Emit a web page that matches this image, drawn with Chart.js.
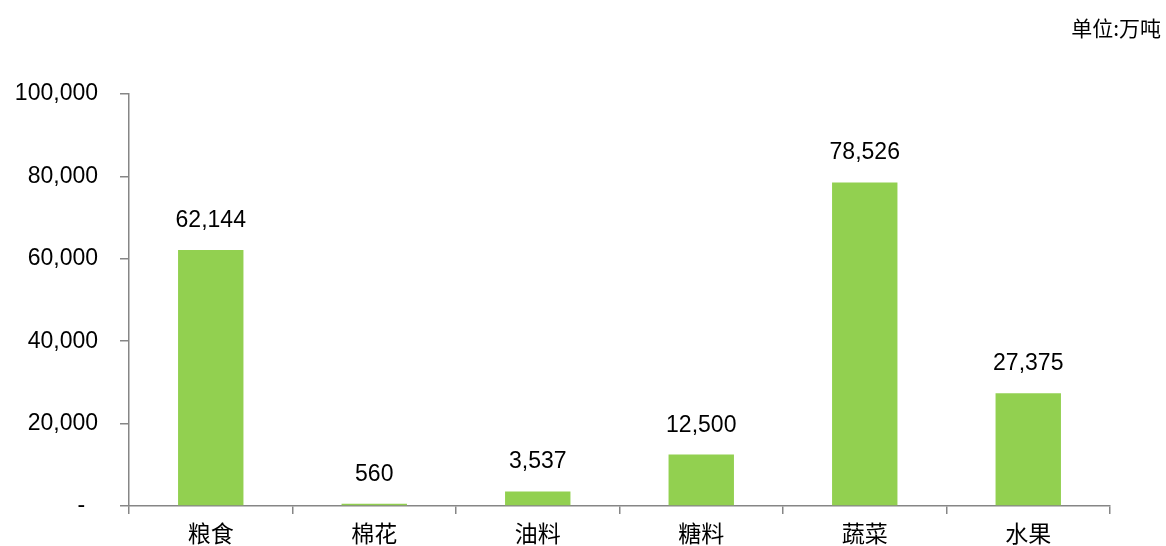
<!DOCTYPE html>
<html>
<head>
<meta charset="utf-8">
<script src="https://cdn.jsdelivr.net/npm/chart.js@4/dist/chart.umd.min.js"></script>
<style>
  html, body { margin: 0; padding: 0; background: #fff; }
  #wrap { width: 1166px; height: 546px; position: relative; }
</style>
</head>
<body>
<div id="wrap"><canvas id="c" width="1166" height="546"></canvas></div>
<script>
// ~~ data ~~
var categories = ["粮食", "棉花", "油料", "糖料", "蔬菜", "水果"];
var output = [62144, 560, 3537, 12500, 78526, 27375];
var yTicks = [0, 20000, 40000, 60000, 80000, 100000];
var unitLabel = "单位:万吨";

var FONT = "'Liberation Sans', 'Noto Sans CJK SC', Arial, sans-serif";
var AXIS = "#868686";

function fmt(v) {
  if (v === 0) return "-";
  return v.toLocaleString("en-US");
}

// value labels above each bar + unit text at the top right
var labelsPlugin = {
  id: "labels",
  afterDatasetsDraw: function(chart) {
    var ctx = chart.ctx;
    ctx.save();
    ctx.fillStyle = "#000";
    ctx.font = "23px " + FONT;
    ctx.textAlign = "center";
    ctx.textBaseline = "alphabetic";
    chart.getDatasetMeta(0).data.forEach(function(bar, i) {
      ctx.fillText(fmt(output[i]), bar.x, bar.y - 23);
    });
    ctx.font = "21px 'Noto Sans CJK SC', sans-serif";
    ctx.textAlign = "right";
    ctx.textBaseline = "middle";
    ctx.fillText(unitLabel, 1161, 28);
    ctx.restore();
  }
};

new Chart(document.getElementById("c"), {
  type: "bar",
  data: {
    labels: categories,
    datasets: [{
      data: output,
      backgroundColor: "#92D050",
      categoryPercentage: 1,
      barPercentage: 0.4
    }]
  },
  options: {
    responsive: false,
    animation: false,
    layout: { padding: { top: 94, right: 56, bottom: 0, left: 0 } },
    plugins: { legend: { display: false }, tooltip: { enabled: false } },
    scales: {
      x: {
        grid: { drawOnChartArea: false, offset: true, color: AXIS, tickLength: 8, lineWidth: 1.5 },
        border: { color: AXIS, width: 1.5 },
        ticks: { color: "#000", font: { size: 23, family: FONT }, padding: 8, maxRotation: 0 },
        afterFit: function(s) { s.height = 40; }
      },
      y: {
        min: 0, max: 100000,
        afterBuildTicks: function(s) { s.ticks = yTicks.map(function(v) { return { value: v }; }); },
        grid: { drawOnChartArea: false, color: AXIS, tickLength: 9, lineWidth: 1.5 },
        border: { color: AXIS, width: 1.5 },
        ticks: {
          color: "#000", font: { size: 23, family: FONT }, padding: 22,
          // accounting style: the zero dash sits a little left of the column edge
          callback: function(v) { return v === 0 ? "-  " : fmt(v); }
        },
        afterFit: function(s) { s.width = 129; }
      }
    }
  },
  plugins: [labelsPlugin]
});
</script>
</body>
</html>
